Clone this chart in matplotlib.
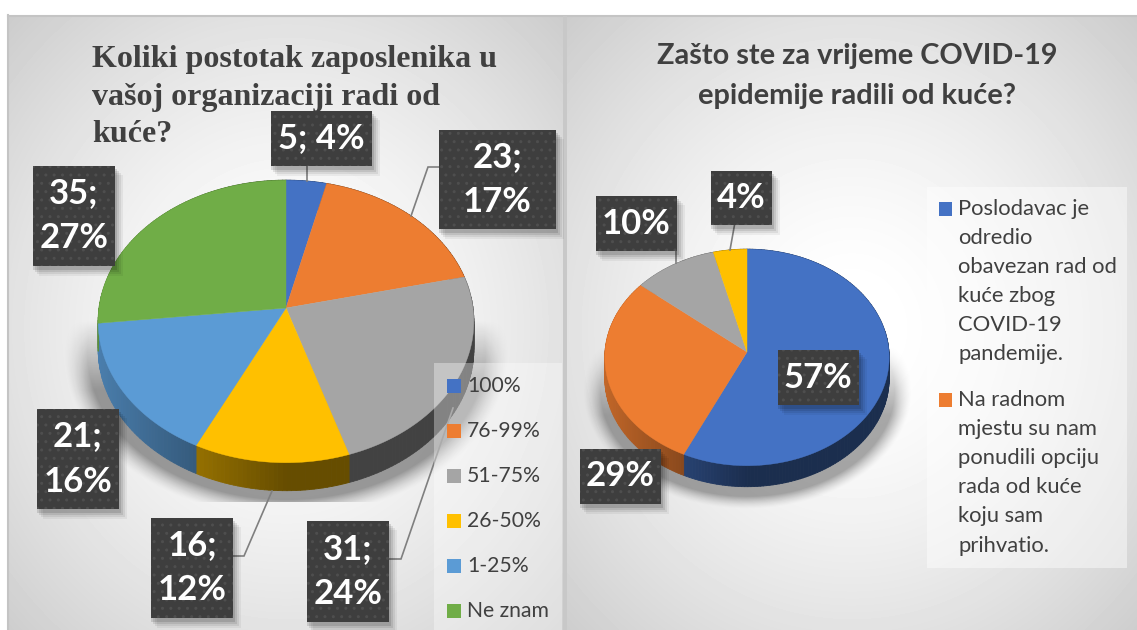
import numpy as np
import matplotlib
matplotlib.use("Agg")
import matplotlib.pyplot as plt
from matplotlib.collections import PolyCollection
from matplotlib.patches import Rectangle

# left chart
left_title = ["Koliki postotak zaposlenika u", "vašoj organizaciji radi od", "kuće?"]
left_categories = ["100%", "76-99%", "51-75%", "26-50%", "1-25%", "Ne znam"]
left_counts = [5, 23, 31, 16, 21, 35]
left_pcts = [4, 17, 24, 12, 16, 27]
left_colors = ["#4472C4", "#ED7D31", "#A5A5A5", "#FFC000", "#5B9BD5", "#70AD47"]

# right chart
right_title = ["Zašto ste za vrijeme COVID-19", "epidemije radili od kuće?"]
right_pcts = [57, 29, 10, 4]
right_colors = ["#4472C4", "#ED7D31", "#A5A5A5", "#FFC000"]
right_legend = [
    ["Poslodavac je", "odredio", "obavezan rad od", "kuće zbog", "COVID-19", "pandemije."],
    ["Na radnom", "mjestu su nam", "ponudili opciju", "rada od kuće", "koju sam", "prihvatio."],
]

W, H = 1137, 630
SANS = ["Lato", "DejaVu Sans"]
DARK = "#404040"

fig = plt.figure(figsize=(W / 100, H / 100), dpi=100)
ax = fig.add_axes([0, 0, 1, 1])
ax.set_xlim(0, W)
ax.set_ylim(H, 0)
ax.axis("off")


def panel(x0, x1, y0, y1):
    xs, ys = np.meshgrid(np.arange(x0, x1), np.arange(y0, y1))
    cx, cy = (x0 + x1) / 2, (y0 + y1) / 2 + 5
    r = np.hypot((xs - cx) / (x1 - x0) / 0.72, (ys - cy) / (y1 - y0) / 0.72)
    v = np.clip(255 - 58 * np.clip(r - 0.08, 0, None) ** 1.4, 190, 255) / 255
    ax.imshow(v, cmap="gray", vmin=0, vmax=1, extent=(x0, x1, y1, y0),
              aspect="auto", zorder=1, interpolation="bilinear")


def soft_shadow(cx, cy, rx, ry, top, bottom, strength=0.38):
    x0, x1 = int(cx - rx * 1.12), int(cx + rx * 1.12)
    xs, ys = np.meshgrid(np.arange(x0, x1), np.arange(top, bottom))
    d = np.hypot((xs - cx) / rx, (ys - cy) / ry)
    a = strength * np.clip((1.10 - d) / 0.12, 0, 1) ** 1.5
    a = a * np.clip((ys - top) / 70, 0, 1)
    rgba = np.zeros(xs.shape + (4,))
    rgba[..., 3] = a
    ax.imshow(rgba, extent=(x0, x1, bottom, top), aspect="auto", zorder=2)


def shade(color, x):
    rgb = np.array(matplotlib.colors.to_rgb(color))
    return tuple(rgb * (0.40 + 0.42 * np.clip(-x, 0, 1)))


def draw_pie(values, colors, cx, ay, sx, sy, k, depth):
    # 3D disc: slices come from the values, projected with a small perspective
    fractions = np.array(values, dtype=float) / np.sum(values)
    edges = np.concatenate([[0], np.cumsum(fractions)]) * 2 * np.pi

    def project(t):
        x, y = np.sin(t), np.cos(t)
        w = 1 + k * y
        return cx + sx * x / w, ay - sy * y / w

    quads, quad_colors = [], []
    for i, c in enumerate(colors):
        ts = np.linspace(edges[i], edges[i + 1], max(8, int(fractions[i] * 300)))
        px, py = project(ts)
        for j in range(len(ts) - 1):
            quads.append([(px[j], py[j]), (px[j + 1], py[j + 1]),
                          (px[j + 1], py[j + 1] + depth), (px[j], py[j] + depth)])
            quad_colors.append(shade(c, np.sin((ts[j] + ts[j + 1]) / 2)))
    ax.add_collection(PolyCollection(quads, facecolors=quad_colors, edgecolors=quad_colors,
                                     linewidths=0.6, zorder=3))
    for i, c in enumerate(colors):
        ts = np.linspace(edges[i], edges[i + 1], 200)
        px, py = project(ts)
        ax.fill(np.r_[cx, px], np.r_[ay, py], color=c, lw=0.3, zorder=4)


def label(x0, x1, y0, y1, text):
    for off, a in [(9, 0.05), (7, 0.07), (5, 0.09), (3, 0.12)]:
        ax.add_patch(Rectangle((x0 + off - 3, y0 + off), x1 - x0 + 2, y1 - y0 + 1,
                               facecolor="black", alpha=a, lw=0, zorder=6))
    ax.add_patch(Rectangle((x0, y0), x1 - x0, y1 - y0, facecolor="#3e3e3e", lw=0, zorder=7))
    ax.add_patch(Rectangle((x0, y0), x1 - x0, y1 - y0, facecolor="none", edgecolor="#4e4e4e",
                           hatch="..", lw=0, zorder=7))
    ax.text((x0 + x1) / 2, (y0 + y1) / 2, text, color="white", fontsize=25, fontweight="bold",
            family=SANS, ha="center", va="center", linespacing=1.5, zorder=8)


def leader(xs, ys):
    ax.plot(xs, ys, color="#7f7f7f", lw=1.2, zorder=5, solid_joinstyle="miter")


ax.add_patch(Rectangle((0, 0), W, H, facecolor="white", lw=0, zorder=0))
panel(9, 563, 16, 630)
panel(566, 1137, 16, 630)
ax.plot([8, 8], [15, 630], color="#c4c4c4", lw=1.5, zorder=2)
ax.plot([8, 1137], [15.5, 15.5], color="#c4c4c4", lw=1.5, zorder=2)
ax.add_patch(Rectangle((563, 16), 3.5, 614, facecolor="#c8c8c8", lw=0, zorder=2))

# left pie
soft_shadow(286, 352, 203, 150, 320, 502)
draw_pie(left_counts, left_colors, 286, 308, 187, 140, 0.095, 28)

for i, line in enumerate(left_title):
    ax.text(92, 60 + i * 37.5, line, family=["Liberation Serif"], fontweight="bold",
            fontsize=23, color=DARK, ha="left", va="center", zorder=5)

leader([306.5, 306.5], [166, 181])
leader([439, 428, 411], [167, 167, 216])
leader([233, 244, 272], [556, 556, 491])
leader([389, 401, 453], [559, 559, 408])

# legend sits on top of the pie, half transparent
ax.add_patch(Rectangle((434, 363), 128, 267, facecolor="white", alpha=0.35, lw=0, zorder=6))
left_y = [386, 431, 476, 521, 566, 611]
for name, c, y in zip(left_categories, left_colors, left_y):
    ax.add_patch(Rectangle((447, y - 7), 14, 14, facecolor=c, lw=0, zorder=7))
    ax.text(467, y, name, family=SANS, fontsize=15.2, color=DARK, ha="left", va="center", zorder=7)

left_boxes = [(271, 372, 111, 166), (439, 556, 130, 229), (307, 389, 521, 622),
              (151, 233, 518, 618), (37, 119, 409, 509), (33, 115, 166, 266)]
for n, p, box in zip(left_counts, left_pcts, left_boxes):
    one_line = box[1] - box[0] > 90 and box[3] - box[2] < 70
    label(*box, f"{n}; {p}%" if one_line else f"{n};\n{p}%")

# right pie
soft_shadow(747, 390, 150, 108, 345, 511, strength=0.34)
draw_pie(right_pcts, right_colors, 747, 352, 142, 108, 0.05, 21)

for i, line in enumerate(right_title):
    ax.text(857, 56 + i * 40, line, family=SANS, fontweight="bold", fontsize=20.8, color=DARK,
            ha="center", va="center", zorder=5)

leader([734.5, 730], [225, 250])
leader([676, 676], [251, 263])

ax.add_patch(Rectangle((926.5, 187), 200.5, 381, facecolor="white", alpha=0.45, lw=0, zorder=6))
for entry, c, y0 in zip(right_legend, right_colors, [209, 400]):
    ax.add_patch(Rectangle((938.5, y0 - 7), 13.5, 14, facecolor=c, lw=0, zorder=7))
    for i, line in enumerate(entry):
        ax.text(958, y0 + i * 29.1, line, family=SANS, fontsize=15.8, color=DARK,
                ha="left", va="center", zorder=7)

right_boxes = [(777.5, 858.5, 350, 405), (580, 661, 449, 504),
               (595.5, 677, 196, 251), (710.5, 772, 171, 225)]
for p, box in zip(right_pcts, right_boxes):
    label(*box, f"{p}%")

ax.set_xlim(0, W)
ax.set_ylim(H, 0)
fig.savefig("out.png", dpi=100)
